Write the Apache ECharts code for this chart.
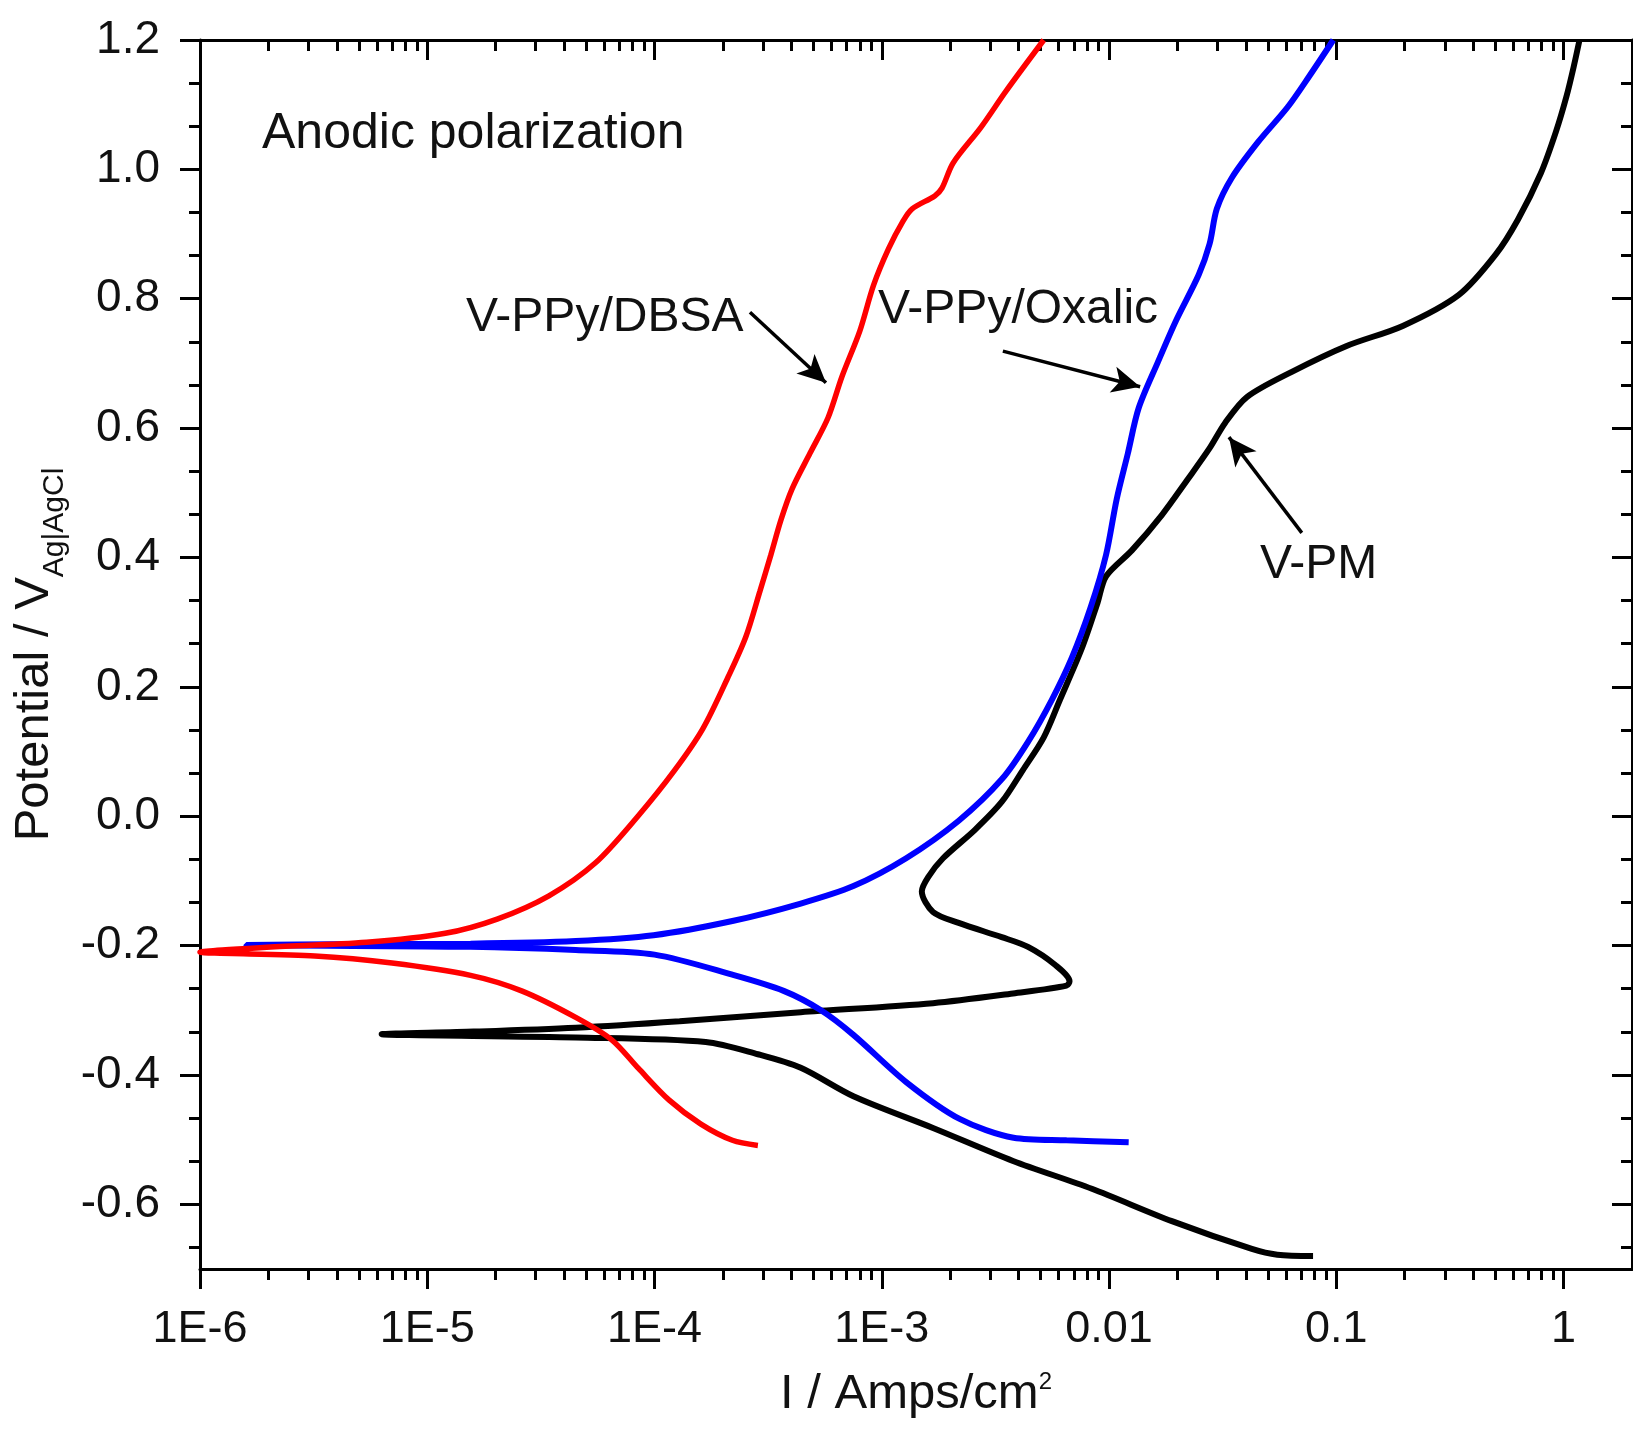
<!DOCTYPE html>
<html>
<head>
<meta charset="utf-8">
<title>Anodic polarization</title>
<script src="https://cdn.jsdelivr.net/npm/echarts@6/dist/echarts.min.js"></script>
<style>
  html, body { margin: 0; padding: 0; background: #fff; }
  #chart { width: 1633px; height: 1430px; }
</style>
</head>
<body>
<div id="chart"></div>
<script>
// axis ranges and tick labels
const xMin = 1e-6;
const xMax = 2;
const yMin = -0.7;
const yMax = 1.2;
const xTickValues = [1e-6, 1e-5, 1e-4, 1e-3, 0.01, 0.1, 1];
const xTickLabels = ['1E-6', '1E-5', '1E-4', '1E-3', '0.01', '0.1', '1'];
const yTickValues = [-0.6, -0.4, -0.2, 0, 0.2, 0.4, 0.6, 0.8, 1.0, 1.2];

// V-PPy/DBSA (red), from the cathodic end up to the anodic end
const dbsaCurrent = [2.85e-4, 2.2e-4, 1.6e-4, 1.16e-4, 8.5e-5, 6.5e-5, 4.5e-5, 2.6e-5, 1.55e-5, 7.0e-6, 3.2e-6, 1.0e-6,
  1.9e-6, 5.4e-6, 1.2e-5, 2.03e-5, 3.43e-5, 5.5e-5, 8.45e-5, 1.22e-4, 1.63e-4, 2.1e-4, 2.52e-4, 2.91e-4, 3.25e-4,
  3.6e-4, 4.03e-4, 4.83e-4, 5.8e-4, 6.67e-4, 8.0e-4, 9.2e-4, 1.07e-3, 1.24e-3, 1.36e-3, 1.71e-3, 1.84e-3, 2.06e-3,
  2.73e-3, 3.52e-3, 5.16e-3];
const dbsaPotential = [-0.509, -0.501, -0.476, -0.439, -0.39, -0.346, -0.311, -0.27, -0.246, -0.227, -0.216, -0.21,
  -0.203, -0.195, -0.181, -0.159, -0.123, -0.072, 0.0, 0.07, 0.135, 0.214, 0.277, 0.348, 0.404,
  0.458, 0.506, 0.561, 0.616, 0.679, 0.75, 0.821, 0.877, 0.92, 0.939, 0.959, 0.971, 1.01,
  1.065, 1.121, 1.2];

// V-PPy/Oxalic (blue)
const oxalicCurrent = [1.22e-2, 6.5e-3, 3.8e-3, 2.2e-3, 1.28e-3, 7.5e-4, 5.4e-4, 3.7e-4, 2.2e-4, 1.0e-4, 4.5e-5, 1.55e-5, 1.6e-6,
  4.0e-6, 1.55e-5, 4.5e-5, 9.9e-5, 2.2e-4, 4.4e-4, 7.5e-4, 1.28e-3, 2.18e-3, 3.37e-3, 4.4e-3, 5.6e-3, 6.86e-3,
  8.3e-3, 9.7e-3, 1.08e-2, 1.21e-2, 1.35e-2, 1.64e-2, 1.97e-2, 2.48e-2, 2.77e-2, 2.98e-2, 3.47e-2, 4.52e-2,
  6.1e-2, 7.6e-2, 9.7e-2];
const oxalicPotential = [-0.504, -0.501, -0.497, -0.468, -0.411, -0.338, -0.30, -0.27, -0.245, -0.214, -0.207, -0.202, -0.199,
  -0.198, -0.197, -0.193, -0.184, -0.162, -0.135, -0.108, -0.065, -0.007, 0.057, 0.115, 0.18, 0.245,
  0.323, 0.404, 0.49, 0.561, 0.631, 0.702, 0.766, 0.837, 0.885, 0.939, 0.987, 1.042,
  1.096, 1.144, 1.2];

// V-PM (black)
const pmCurrent = [7.9e-2, 5.5e-2, 4.25e-2, 1.89e-2, 8.4e-3, 3.78e-3, 1.68e-3, 7.5e-4, 4.4e-4, 2.85e-4, 1.68e-4, 4.5e-5, 6.3e-6,
  1.6e-5, 4.5e-5, 1.29e-4, 4.4e-4, 1.68e-3, 3.78e-3, 6.5e-3, 6.7e-3, 5.8e-3, 4.4e-3, 3.37e-3, 2.18e-3, 1.68e-3,
  1.5e-3, 1.6e-3, 1.86e-3, 2.57e-3, 3.37e-3, 4.17e-3, 5.16e-3, 6.08e-3, 7.6e-3, 8.9e-3, 9.7e-3, 1.26e-2,
  1.71e-2, 2.22e-2, 2.77e-2, 3.24e-2, 4.04e-2, 6.37e-2, 0.111, 0.196, 0.346, 0.504, 0.631, 0.794, 0.925,
  1.03, 1.11, 1.175];
const pmPotential = [-0.680, -0.678, -0.669, -0.626, -0.576, -0.533, -0.482, -0.433, -0.389, -0.368, -0.349, -0.342, -0.337,
  -0.333, -0.327, -0.317, -0.303, -0.289, -0.274, -0.262, -0.255, -0.230, -0.202, -0.187, -0.165, -0.148,
  -0.116, -0.094, -0.065, -0.021, 0.022, 0.071, 0.122, 0.180, 0.26, 0.33, 0.371, 0.411,
  0.466, 0.521, 0.569, 0.608, 0.648, 0.687, 0.727, 0.758, 0.806, 0.869, 0.923, 0.994, 1.058,
  1.113, 1.16, 1.2];

// arrows: [current, potential] of tail and head
const dbsaArrow = [[2.63e-4, 0.779], [5.68e-4, 0.670]];
const oxalicArrow = [[3.41e-3, 0.719], [1.37e-2, 0.664]];
const pmArrow = [[7.05e-2, 0.438], [3.37e-2, 0.586]];

const FONT = '"Liberation Sans", Arial, Helvetica, sans-serif';
const lg = v => Math.log10(v);

// x axis is drawn in log10 space so the decade minor ticks land at 2..9
const xMajor = xTickValues.map(lg);
const xMinor = [];
xTickValues.forEach(d => {
  for (let k = 2; k <= 9; k++) {
    if (k * d < xMax * 0.999) xMinor.push(lg(k * d));
  }
});
const yStep = 0.2;
const yMinor = [];
for (let m = -0.8; m < yMax; m += yStep) {
  [1, 2].forEach(k => {
    const v = +(m + k * yStep / 3).toFixed(4);
    if (v > yMin && v < yMax) yMinor.push(v);
  });
}

function xLabel(v) {
  const i = xMajor.findIndex(t => Math.abs(t - v) < 1e-6);
  return i < 0 ? '' : xTickLabels[i];
}

function makeAxis(dim, position, ticks, len, inside, extra) {
  const isX = dim === 'x';
  return Object.assign({
    type: 'value',
    position: position,
    min: isX ? lg(xMin) : yMin,
    max: isX ? lg(xMax) : yMax,
    axisLine: { show: false, onZero: false },
    axisTick: {
      show: true, inside: inside, length: len, customValues: ticks,
      lineStyle: { color: '#000', width: 3 }
    },
    axisLabel: { show: false },
    splitLine: { show: false },
    minorTick: { show: false },
    minorSplitLine: { show: false }
  }, extra || {});
}

function pairs(cur, pot) {
  return cur.map((c, i) => [lg(c), pot[i]]);
}

function arrow(a) {
  return {
    silent: true,
    animation: false,
    symbol: ['none', 'arrow'],
    symbolSize: [20, 28],
    lineStyle: { color: '#000', width: 3.5, type: 'solid' },
    label: { show: false },
    emphasis: { disabled: true },
    data: [[
      { coord: [lg(a[0][0]), a[0][1]] },
      { coord: [lg(a[1][0]), a[1][1]] }
    ]]
  };
}

const chart = echarts.init(document.getElementById('chart'), null, { renderer: 'canvas' });

const axisLineStyle = { show: true, onZero: false, lineStyle: { color: '#000', width: 3 } };

const option = {
  animation: false,
  backgroundColor: '#fff',
  grid: {
    left: 200, right: 1, top: 40, bottom: 161,
    containLabel: false,
    outerBoundsMode: 'none'
  },
  xAxis: [
    makeAxis('x', 'bottom', xMajor, 20, false, {
      axisLine: axisLineStyle,
      axisLabel: {
        show: true, customValues: xMajor, formatter: xLabel, margin: 38,
        fontSize: 45, fontFamily: FONT, color: '#111'
      },
      name: '{a|I / Amps/cm}{b|2}',
      nameLocation: 'middle',
      nameGap: 101,
      nameTextStyle: {
        fontFamily: FONT, color: '#111',
        rich: {
          a: { fontSize: 49, lineHeight: 49, fontFamily: FONT, color: '#111', verticalAlign: 'top' },
          b: { fontSize: 24, lineHeight: 24, fontFamily: FONT, color: '#111', verticalAlign: 'top' }
        }
      }
    }),
    makeAxis('x', 'bottom', xMinor, 11, false),
    makeAxis('x', 'top', xMajor, 20, true, { axisLine: axisLineStyle }),
    makeAxis('x', 'top', xMinor, 11, true)
  ],
  yAxis: [
    makeAxis('y', 'left', yTickValues, 20, false, {
      axisLine: axisLineStyle,
      axisLabel: {
        show: true, customValues: yTickValues, formatter: v => v.toFixed(1), margin: 40,
        fontSize: 46, fontFamily: FONT, color: '#111'
      },
      name: '{a|Potential / V}{b|Ag|AgCl}',
      nameLocation: 'middle',
      nameRotate: 90,
      nameGap: 116,
      nameTextStyle: {
        fontFamily: FONT, color: '#111',
        rich: {
          a: { fontSize: 49, lineHeight: 49, fontFamily: FONT, color: '#111', verticalAlign: 'top' },
          b: { fontSize: 30, lineHeight: 30, fontFamily: FONT, color: '#111', padding: [40, 0, 0, 0] }
        }
      }
    }),
    makeAxis('y', 'left', yMinor, 11, false),
    makeAxis('y', 'right', yTickValues, 20, true, { axisLine: axisLineStyle }),
    makeAxis('y', 'right', yMinor, 11, true)
  ],
  series: [
    {
      name: 'V-PM',
      type: 'line',
      data: pairs(pmCurrent, pmPotential),
      showSymbol: false,
      smooth: 0.3,
      lineStyle: { color: '#000', width: 6 },
      markLine: arrow(pmArrow)
    },
    {
      name: 'V-PPy/Oxalic',
      type: 'line',
      data: pairs(oxalicCurrent, oxalicPotential),
      showSymbol: false,
      smooth: 0.3,
      lineStyle: { color: '#0000ff', width: 6 },
      markLine: arrow(oxalicArrow)
    },
    {
      name: 'V-PPy/DBSA',
      type: 'line',
      data: pairs(dbsaCurrent, dbsaPotential),
      showSymbol: false,
      smooth: 0.3,
      lineStyle: { color: '#ff0000', width: 5.5 },
      markLine: arrow(dbsaArrow)
    }
  ],
  graphic: [
    { type: 'text', x: 262, y: 134, style: { text: 'Anodic polarization', fontSize: 50, fontFamily: FONT, fill: '#111', verticalAlign: 'middle' } },
    { type: 'text', x: 466, y: 318, style: { text: 'V-PPy/DBSA', fontSize: 48, fontFamily: FONT, fill: '#111', verticalAlign: 'middle' } },
    { type: 'text', x: 878, y: 310, style: { text: 'V-PPy/Oxalic', fontSize: 48, fontFamily: FONT, fill: '#111', verticalAlign: 'middle' } },
    { type: 'text', x: 1260, y: 565, style: { text: 'V-PM', fontSize: 48, fontFamily: FONT, fill: '#111', verticalAlign: 'middle' } }
  ]
};

chart.setOption(option);
</script>
</body>
</html>
